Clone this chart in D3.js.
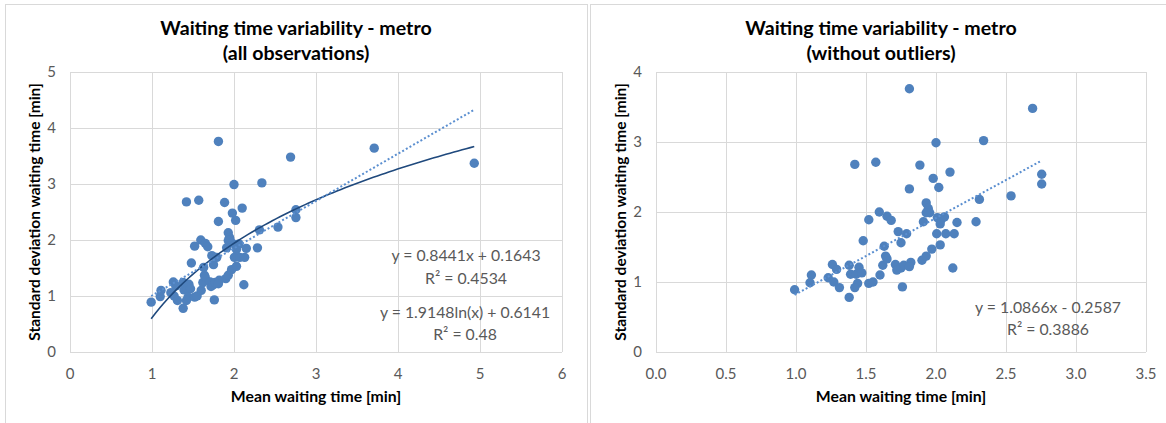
<!DOCTYPE html>
<html>
<head>
<meta charset="utf-8">
<script src="https://cdn.jsdelivr.net/npm/d3@7"></script>
<style>
  body { margin: 0; background: #fff; }
  svg { display: block; font-family: Lato, "Open Sans", sans-serif; }
</style>
</head>
<body>
<div id="chart"></div>
<script>
// Observations without outliers (mean / std dev of waiting time, minutes)
const meanWait = [0.99, 1.11, 1.10, 1.26, 1.29, 1.23, 1.27, 1.31, 1.38, 1.38,
  1.39, 1.43, 1.45, 1.47, 1.44, 1.42, 1.48, 1.52, 1.55, 1.60,
  1.62, 1.64, 1.65, 1.63, 1.71, 1.72, 1.75, 1.77, 1.82, 1.81,
  1.76, 1.90, 1.93, 1.97, 2.03, 2.005, 2.07, 1.73, 1.75, 1.79,
  2.12, 2.00, 1.42, 1.57, 1.885, 2.10, 1.98, 2.02, 1.81, 1.93,
  1.945, 1.955, 1.93, 2.01, 2.04, 2.06, 2.03, 1.595, 1.65, 1.68,
  1.52, 1.91, 2.13, 2.69, 2.34, 2.755, 2.755, 2.536, 2.31, 2.15,
  2.286, 1.81];
const sdWait = [0.89, 1.10, 0.99, 1.25, 1.18, 1.06, 1.00, 0.92, 1.24, 0.78,
  1.11, 1.11, 1.21, 1.13, 0.98, 0.92, 1.59, 0.98, 1.00, 1.10,
  1.24, 1.37, 1.33, 1.51, 1.25, 1.17, 1.20, 1.24, 1.28, 1.22,
  0.93, 1.31, 1.37, 1.47, 1.53, 1.69, 1.69, 1.72, 1.56, 1.69,
  1.20, 2.99, 2.68, 2.71, 2.67, 2.57, 2.48, 2.35, 2.33, 2.13,
  2.05, 1.99, 1.99, 1.92, 1.90, 1.93, 1.83, 2.00, 1.94, 1.88,
  1.89, 1.86, 1.69, 3.48, 3.02, 2.54, 2.40, 2.23, 2.18, 1.85,
  1.86, 3.76];

// The two outliers that only appear in the left chart
const outlierMean = [3.71, 4.93];
const outlierSd = [3.64, 3.37];

// Trendline coefficients
const linAll = { a: 0.8441, b: 0.1643 };
const logAll = { a: 1.9148, b: 0.6141 };
const linNoOut = { a: 1.0866, b: -0.2587 };

// Axis ticks
const xTicksAll = [0, 1, 2, 3, 4, 5, 6];
const yTicksAll = [0, 1, 2, 3, 4, 5];
const xTicksNoOut = [0, 0.5, 1, 1.5, 2, 2.5, 3, 3.5];
const yTicksNoOut = [0, 1, 2, 3, 4];

const W = 1166, H = 423;
const POINT = "#4f81bd";
const TEXT_GRAY = "#595959";
const GRID = "#d9d9d9";

const svg = d3.select("#chart").append("svg")
  .attr("width", W).attr("height", H);

function drawPanel(cfg) {
  const g = svg.append("g");
  const { plot } = cfg;

  // panel frame
  g.append("rect")
    .attr("x", cfg.frame[0] + 0.5).attr("y", 4.5)
    .attr("width", cfg.frame[1] - cfg.frame[0]).attr("height", H + 10)
    .attr("fill", "#fff").attr("stroke", "#d9d9d9");

  const x = d3.scaleLinear().domain(cfg.xDomain).range([plot.left, plot.right]);
  const y = d3.scaleLinear().domain(cfg.yDomain).range([plot.bottom, plot.top]);

  // gridlines
  g.selectAll("line.hgrid").data(cfg.yTicks).join("line")
    .attr("class", "hgrid")
    .attr("x1", plot.left).attr("x2", plot.right)
    .attr("y1", d => Math.round(y(d)) + 0.5).attr("y2", d => Math.round(y(d)) + 0.5)
    .attr("stroke", GRID);
  g.selectAll("line.vgrid").data(cfg.xTicks).join("line")
    .attr("class", "vgrid")
    .attr("x1", d => Math.round(x(d)) + 0.5).attr("x2", d => Math.round(x(d)) + 0.5)
    .attr("y1", plot.top).attr("y2", plot.bottom)
    .attr("stroke", GRID);

  // tick labels
  g.selectAll("text.xt").data(cfg.xTicks).join("text")
    .attr("class", "xt")
    .attr("x", d => x(d)).attr("y", plot.bottom + 27)
    .attr("text-anchor", "middle")
    .attr("font-size", 15).attr("fill", TEXT_GRAY)
    .text(cfg.xFormat);
  g.selectAll("text.yt").data(cfg.yTicks).join("text")
    .attr("class", "yt")
    .attr("x", plot.left - 14).attr("y", d => y(d) + 5)
    .attr("text-anchor", "end")
    .attr("font-size", 15).attr("fill", TEXT_GRAY)
    .text(d => d);

  // titles
  const cx = (cfg.frame[0] + cfg.frame[1]) / 2;
  g.append("text")
    .attr("x", cx).attr("y", 35)
    .attr("text-anchor", "middle")
    .attr("font-size", 19.6).attr("font-weight", 700).attr("fill", "#000")
    .text("Waiting time variability - metro");
  g.append("text")
    .attr("x", cx).attr("y", 60)
    .attr("text-anchor", "middle")
    .attr("font-size", 19.6).attr("font-weight", 700).attr("fill", "#000")
    .text(cfg.subtitle);

  g.append("text")
    .attr("x", (plot.left + plot.right) / 2).attr("y", 402)
    .attr("text-anchor", "middle")
    .attr("font-size", 15.8).attr("font-weight", 700).attr("fill", "#000")
    .text("Mean waiting time [min]");
  g.append("text")
    .attr("transform", `translate(${plot.left - 30},${(plot.top + plot.bottom) / 2}) rotate(-90)`)
    .attr("text-anchor", "middle")
    .attr("font-size", 15.5).attr("font-weight", 700).attr("fill", "#000")
    .text("Standard deviation waiting time [min]");

  // points
  const pts = cfg.xs.map((v, i) => ({ x: v, y: cfg.ys[i] }));
  g.selectAll("circle").data(pts).join("circle")
    .attr("cx", d => x(d.x)).attr("cy", d => y(d.y))
    .attr("r", 4.7)
    .attr("fill", POINT);

  // trendlines over the data range
  const [xmin, xmax] = d3.extent(cfg.xs);
  if (cfg.log) {
    const xsLog = d3.range(xmin, xmax, (xmax - xmin) / 80).concat([xmax]);
    g.append("path")
      .datum(xsLog)
      .attr("d", d3.line().x(d => x(d)).y(d => y(cfg.log.a * Math.log(d) + cfg.log.b)))
      .attr("fill", "none")
      .attr("stroke", "#1f497d")
      .attr("stroke-width", 1.6);
  }
  g.append("path")
    .datum([xmin, xmax])
    .attr("d", d3.line().x(d => x(d)).y(d => y(cfg.lin.a * d + cfg.lin.b)))
    .attr("fill", "none")
    .attr("stroke", "#5b8fd0")
    .attr("stroke-width", 2)
    .attr("stroke-dasharray", "2,2.2");

  // equation labels
  cfg.labels.forEach(l => {
    g.append("text")
      .attr("x", l.x).attr("y", l.y)
      .attr("text-anchor", "middle")
      .attr("font-size", 15.8).attr("fill", TEXT_GRAY)
      .text(l.text);
  });
}

drawPanel({
  frame: [5, 587],
  plot: { left: 70, right: 562, top: 72, bottom: 352 },
  xDomain: [0, 6], yDomain: [0, 5],
  xTicks: xTicksAll, yTicks: yTicksAll,
  xFormat: d => d,
  subtitle: "(all observations)",
  xs: meanWait.concat(outlierMean),
  ys: sdWait.concat(outlierSd),
  lin: linAll, log: logAll,
  labels: [
    { x: 466, y: 261, text: "y = 0.8441x + 0.1643" },
    { x: 466, y: 284, text: "R² = 0.4534" },
    { x: 465, y: 318, text: "y = 1.9148ln(x) + 0.6141" },
    { x: 465, y: 340, text: "R² = 0.48" }
  ]
});

drawPanel({
  frame: [590, 1172],
  plot: { left: 656, right: 1146, top: 72, bottom: 352 },
  xDomain: [0, 3.5], yDomain: [0, 4],
  xTicks: xTicksNoOut, yTicks: yTicksNoOut,
  xFormat: d3.format(".1f"),
  subtitle: "(without outliers)",
  xs: meanWait, ys: sdWait,
  lin: linNoOut, log: null,
  labels: [
    { x: 1048, y: 313, text: "y = 1.0866x - 0.2587" },
    { x: 1048, y: 335, text: "R² = 0.3886" }
  ]
});
</script>
</body>
</html>
